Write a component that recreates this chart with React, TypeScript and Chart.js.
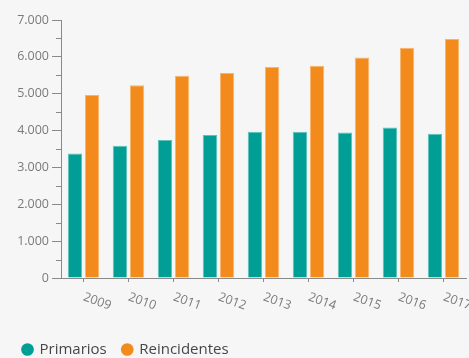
import React, { useEffect, useRef } from "react";
import { Chart, registerables } from "chart.js";

Chart.register(...registerables);

const years = ["2009", "2010", "2011", "2012", "2013", "2014", "2015", "2016", "2017"];
const primarios = [3380, 3590, 3745, 3880, 3970, 3970, 3945, 4080, 3915];
const reincidentes = [4965, 5230, 5490, 5560, 5725, 5760, 5985, 6250, 6485];
const yMax = 7000;
const yStep = 500;

const TEAL = "#009e94";
const TEAL_EDGE = "#5cc2bb";
const ORANGE = "#f28b1c";
const ORANGE_EDGE = "#f7b46c";
const AXIS = "#8a8a8a";
const LABEL = "#7a7a7a";
const FONT = '"Open Sans", "DejaVu Sans", sans-serif';

const fmt = (v: number) => String(v).replace(/\B(?=(\d{3})+(?!\d))/g, ".");

const decor = {
  id: "decor",
  afterDraw(chart: any) {
    const { ctx, chartArea, scales } = chart;
    const x = scales.x;
    const y = scales.y;
    ctx.save();
    ctx.strokeStyle = AXIS;
    ctx.lineWidth = 1;
    for (let v = yStep; v < yMax; v += 2 * yStep) {
      const py = Math.round(y.getPixelForValue(v)) + 0.5;
      ctx.beginPath();
      ctx.moveTo(chartArea.left - 5, py);
      ctx.lineTo(chartArea.left, py);
      ctx.stroke();
    }
    ctx.font = `12.5px ${FONT}`;
    ctx.fillStyle = LABEL;
    ctx.textAlign = "left";
    ctx.textBaseline = "alphabetic";
    years.forEach((yr, i) => {
      const px = x.getPixelForValue(i);
      ctx.save();
      ctx.translate(px - 1, chartArea.bottom + 22);
      ctx.rotate((20 * Math.PI) / 180);
      ctx.fillText(yr, 0, 0);
      ctx.restore();
    });
    ctx.restore();
  },
};

export default function App() {
  const ref = useRef<HTMLCanvasElement>(null);
  useEffect(() => {
    if (!ref.current) return;
    const chart = new Chart(ref.current, {
      type: "bar",
      data: {
        labels: years,
        datasets: [
          {
            label: "Primarios",
            data: primarios,
            backgroundColor: TEAL,
            borderColor: TEAL_EDGE,
            borderWidth: 1,
            categoryPercentage: 0.76,
            barPercentage: 0.84,
          },
          {
            label: "Reincidentes",
            data: reincidentes,
            backgroundColor: ORANGE,
            borderColor: ORANGE_EDGE,
            borderWidth: 1,
            categoryPercentage: 0.76,
            barPercentage: 0.84,
          },
        ],
      },
      options: {
        animation: false,
        responsive: false,
        layout: { padding: { left: 7, right: 3, top: 20, bottom: 0 } },
        plugins: {
          tooltip: { enabled: false },
          legend: {
            position: "bottom",
            align: "start",
            labels: {
              usePointStyle: true,
              boxWidth: 9,
              boxHeight: 9,
              padding: 16,
              color: "#474747",
              font: { family: FONT, size: 15 },
              generateLabels: (c: any) =>
                c.data.datasets.map((ds: any, i: number) => ({
                  text: ds.label,
                  fillStyle: ds.backgroundColor,
                  strokeStyle: ds.backgroundColor,
                  lineWidth: 0,
                  pointStyle: "circle",
                  hidden: false,
                  datasetIndex: i,
                  fontColor: "#474747",
                })),
            },
          },
        },
        scales: {
          x: {
            offset: true,
            grid: {
              offset: false,
              drawOnChartArea: false,
              drawTicks: true,
              tickLength: 4,
              color: AXIS,
            },
            border: { display: true, color: AXIS, width: 1 },
            ticks: { display: false },
            afterFit: (s: any) => {
              s.height = 48;
            },
          },
          y: {
            min: 0,
            max: yMax,
            grid: {
              drawOnChartArea: false,
              drawTicks: true,
              tickLength: 9,
              color: (c: any) => (c.tick && c.tick.value % 1000 === 0 ? AXIS : "rgba(0,0,0,0)"),
            },
            border: { display: true, color: AXIS, width: 1 },
            ticks: {
              stepSize: yStep,
              padding: 3,
              color: LABEL,
              font: { family: FONT, size: 12.5 },
              callback: (v: any) => (Number(v) % 1000 === 0 ? fmt(Number(v)) : ""),
            },
            afterFit: (s: any) => {
              s.width = 54;
            },
          },
        },
      },
      plugins: [decor],
    });
    return () => chart.destroy();
  }, []);

  return (
    <div
      style={{
        position: "fixed",
        left: 0,
        top: 0,
        width: 469,
        height: 358,
        overflow: "hidden",
        background: "#f6f6f6",
      }}
    >
      <canvas ref={ref} width={469} height={367} style={{ display: "block" }} />
    </div>
  );
}
